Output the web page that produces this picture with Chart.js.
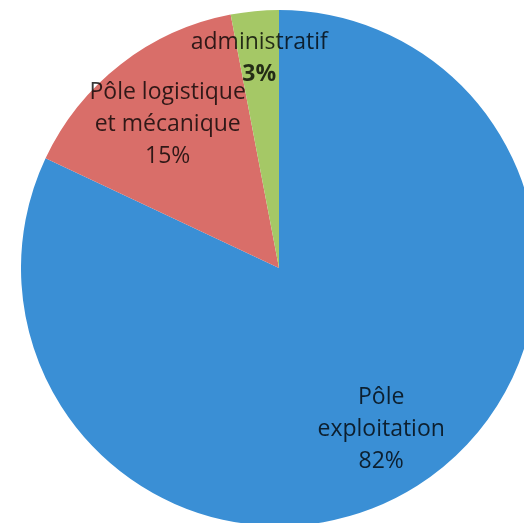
<!DOCTYPE html>
<html>
<head>
<meta charset="utf-8">
<script src="https://cdn.jsdelivr.net/npm/chart.js@4.4.0/dist/chart.umd.min.js"></script>
<style>
  html, body { margin: 0; padding: 0; background: #fff; overflow: hidden; }
  body { width: 524px; height: 523px; position: relative; }
  #wrap { position: absolute; left: 21px; top: 10px; width: 516px; height: 516px; }
</style>
</head>
<body>
<div id="wrap"><canvas id="chart"></canvas></div>
<script>
// Data
var labels = ['Pôle exploitation', 'Pôle logistique et mécanique', 'administratif'];
var values = [82, 15, 3];
var colors = ['#3a8fd5', '#d96e69', '#a5c866'];

// label text lines (as shown on the picture)
var labelLines = [
    ['Pôle', 'exploitation', '82%'],
    ['Pôle logistique', 'et mécanique', '15%'],
    ['administratif', '3%']
];
var boldLast = [false, false, true];
var labelRadius = [0.739, 0.704, 0.815];

// Draws the data labels inside each slice
var sliceLabels = {
    id: 'sliceLabels',
    afterDatasetsDraw: function(chart) {
        var ctx = chart.ctx;
        var meta = chart.getDatasetMeta(0);
        ctx.save();
        ctx.textAlign = 'center';
        ctx.textBaseline = 'middle';
        ctx.fillStyle = 'rgba(0,0,0,0.78)';
        meta.data.forEach(function(arc, i) {
            var mid = (arc.startAngle + arc.endAngle) / 2;
            var r = arc.outerRadius * labelRadius[i];
            var cx = arc.x + Math.cos(mid) * r;
            var cy = arc.y + Math.sin(mid) * r;
            var lines = labelLines[i];
            var lh = 32;
            var y0 = cy - (lines.length - 1) * lh / 2;
            lines.forEach(function(txt, j) {
                var bold = boldLast[i] && j === lines.length - 1;
                ctx.font = (bold ? 'bold ' : '') + '23px "Open Sans"';
                ctx.fillText(txt, cx, y0 + j * lh);
            });
        });
        ctx.restore();
    }
};

var chart = new Chart(document.getElementById('chart').getContext('2d'), {
    type: 'pie',
    data: {
        labels: labels,
        datasets: [{
            data: values,
            backgroundColor: colors,
            borderWidth: 0
        }]
    },
    options: {
        responsive: true,
        maintainAspectRatio: false,
        animation: false,
        layout: { padding: 0 },
        plugins: {
            legend: { display: false },
            tooltip: { enabled: false }
        }
    },
    plugins: [sliceLabels]
});
</script>
</body>
</html>
